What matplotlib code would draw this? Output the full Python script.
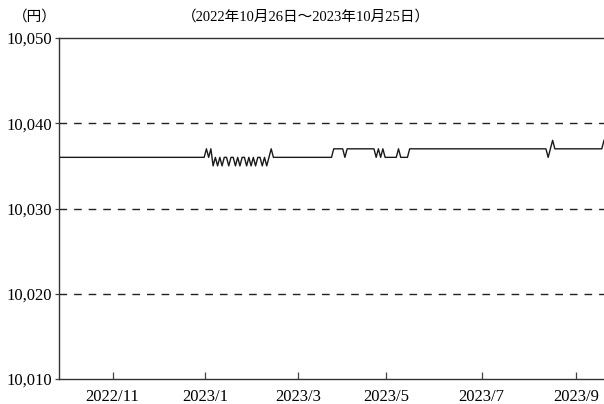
import matplotlib.pyplot as plt
import numpy as np

# 基準価額（営業日ごと、円）
wiggle = [10035, 10036, 10035, 10036, 10035, 10036, 10036, 10035, 10036, 10036,
          10035, 10036, 10035, 10036, 10036, 10035, 10036, 10035, 10036,
          10035, 10036, 10036, 10035, 10036, 10035]
segments = [
    [10036] * 66,
    [10037, 10036, 10037],
    wiggle,
    [10036, 10037],
    [10036] * 27,
    [10037] * 5 + [10036] + [10037] * 13,
    [10036, 10037, 10036, 10037] + [10036] * 6,
    [10037, 10036, 10036, 10036, 10036],
    [10037] * 62,
    [10036, 10037, 10038],
    [10037] * 22,
    [10038],
]
nav = np.concatenate(segments)
days = np.arange(len(nav))

tick_pos = [24, 65.5, 107, 146.3, 189.2, 231.6]
tick_labels = ["2022/11", "2023/1", "2023/3", "2023/5", "2023/7", "2023/9"]
y_ticks = [10010, 10020, 10030, 10040, 10050]
y_labels = ["10,010", "10,020", "10,030", "10,040", "10,050"]
title = "（2022年10月26日～2023年10月25日）"
unit = "（円）"

plt.rcParams['font.family'] = ['Liberation Serif', 'Noto Sans CJK JP']

fig = plt.figure(figsize=(6.04, 4.04), dpi=100)
ax = fig.add_axes([59 / 604, 25 / 404, 545 / 604, 341 / 404])

ax.plot(days, nav, color='#1a1a1a', lw=1.0)

# 破線の目盛線
for y in [10020, 10030, 10040]:
    ax.axhline(y, color='#222222', lw=1.0, dashes=(5.5, 5))

ax.set_xlim(0, len(nav) - 1)
ax.set_ylim(10010, 10050)
ax.set_xticks(tick_pos)
ax.set_xticklabels(tick_labels, fontsize=12)
ax.set_yticks(y_ticks)
ax.set_yticklabels(y_labels, fontsize=12)

ax.tick_params(axis='x', direction='in', length=5, width=0.9, pad=7, color='#444444')
ax.tick_params(axis='y', direction='out', length=3, width=0.9, pad=2, color='#444444')

ax.spines['right'].set_visible(False)
for s in ['left', 'bottom', 'top']:
    ax.spines[s].set_color('#333333')
    ax.spines[s].set_linewidth(1.0)

fig.text(35 / 604, 1 - 17 / 404, unit, ha='center', va='center', fontsize=10.5)
fig.text(306 / 604, 1 - 17 / 404, title, ha='center', va='center', fontsize=10.5)

fig.savefig("out.png", dpi=100)
